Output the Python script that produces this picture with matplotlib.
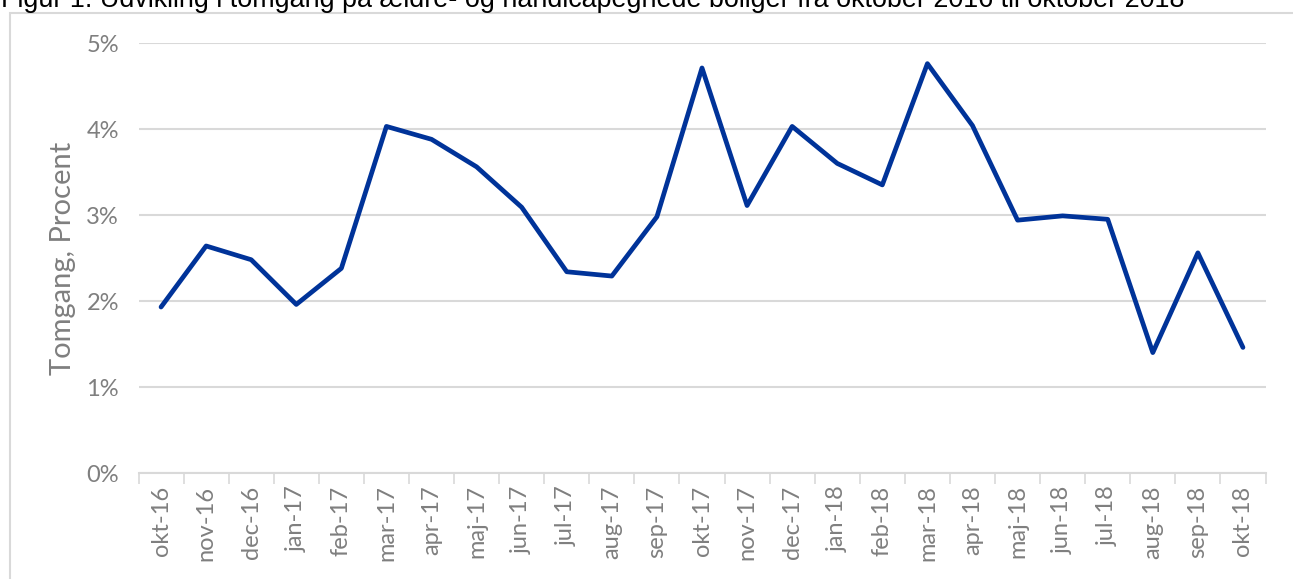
import matplotlib.pyplot as plt
import matplotlib.patches as patches
from matplotlib.ticker import FixedLocator, FuncFormatter

months = ['okt-16', 'nov-16', 'dec-16', 'jan-17', 'feb-17', 'mar-17', 'apr-17',
          'maj-17', 'jun-17', 'jul-17', 'aug-17', 'sep-17', 'okt-17', 'nov-17',
          'dec-17', 'jan-18', 'feb-18', 'mar-18', 'apr-18', 'maj-18', 'jun-18',
          'jul-18', 'aug-18', 'sep-18', 'okt-18']
tomgang = [1.93, 2.64, 2.48, 1.96, 2.38, 4.03, 3.88, 3.56, 3.09, 2.34, 2.29,
           2.98, 4.71, 3.11, 4.03, 3.60, 3.35, 4.76, 4.04, 2.94, 2.99, 2.95,
           1.40, 2.56, 1.46]
yticks = [0, 1, 2, 3, 4, 5]

title = 'Figur 1. Udvikling i tomgang på ældre- og handicapegnede boliger fra oktober 2016 til oktober 2018'

grey = '#7f7f7f'
font = 'Lato'

fig = plt.figure(figsize=(12.93, 5.79), dpi=100)
ax = fig.add_axes([138.5/1293, 1-473/579, 1127/1293, 430/579])

# outer frame of the figure box
fig.patches.append(patches.Rectangle((10/1293, -0.05), 1.1, 1-13/579+0.05,
                                     transform=fig.transFigure, fill=False,
                                     edgecolor='#d9d9d9', linewidth=1.5))
fig.text(1/1293, 1-7/579, title, fontsize=19.4, family='Liberation Sans',
         va='baseline', ha='left', color='black')

x = list(range(len(months)))
ax.plot(x, tomgang, color='#003399', linewidth=3.4, solid_joinstyle='round',
        solid_capstyle='round', zorder=3)

ax.set_xlim(-0.5, len(months)-0.5)
ax.set_ylim(0, 5)
ax.set_yticks(yticks)
ax.yaxis.set_major_formatter(FuncFormatter(lambda v, p: '%d%%' % v))
ax.grid(axis='y', color='#d9d9d9', linewidth=1.5)
ax.set_axisbelow(True)

ax.set_xticks(x)
ax.set_xticklabels(months, rotation=90)
ax.xaxis.set_minor_locator(FixedLocator([i - 0.5 for i in range(len(months)+1)]))
ax.tick_params(axis='x', which='major', length=0, pad=9, labelsize=17, labelcolor=grey)
ax.tick_params(axis='x', which='minor', length=8, color='#d9d9d9', width=1.2)
ax.tick_params(axis='y', length=0, pad=14, labelsize=17, labelcolor=grey)

for s in ['top', 'right', 'left']:
    ax.spines[s].set_visible(False)
ax.spines['bottom'].set_color('#d9d9d9')
ax.spines['bottom'].set_linewidth(1.5)

for lab in ax.get_xticklabels() + ax.get_yticklabels():
    lab.set_family(font)

ax.set_ylabel('Tomgang, Procent', fontsize=21, color=grey, family=font)
ax.yaxis.set_label_coords(-63/1127, 0.5)

fig.savefig('out.png', dpi=100)
